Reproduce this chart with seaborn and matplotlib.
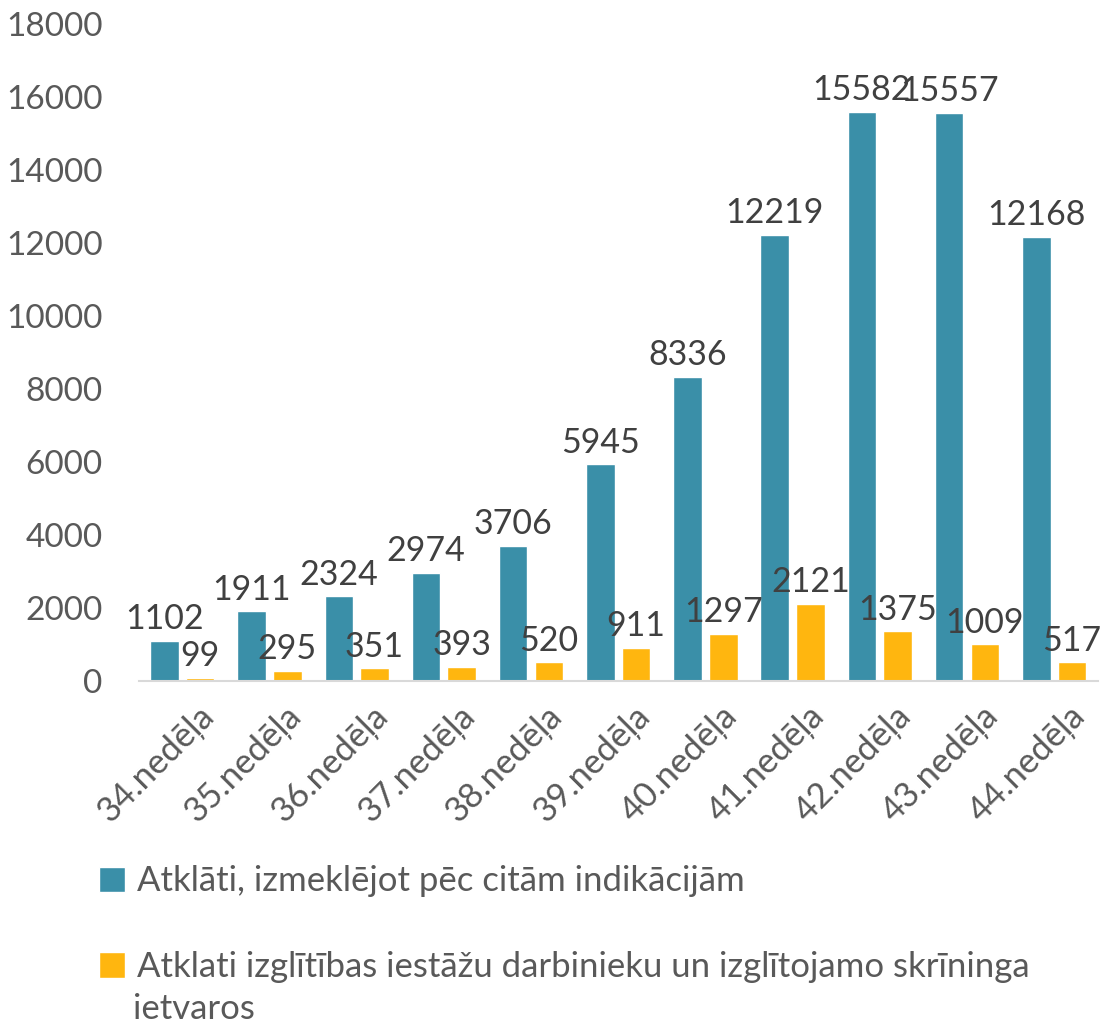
import pandas as pd
import matplotlib
matplotlib.use("Agg")
import matplotlib.pyplot as plt
import matplotlib.transforms as mtransforms
import seaborn as sns

weeks = ["34.nedēļa", "35.nedēļa", "36.nedēļa", "37.nedēļa", "38.nedēļa", "39.nedēļa",
         "40.nedēļa", "41.nedēļa", "42.nedēļa", "43.nedēļa", "44.nedēļa"]
other_ind = [1102, 1911, 2324, 2974, 3706, 5945, 8336, 12219, 15582, 15557, 12168]
screening = [99, 295, 351, 393, 520, 911, 1297, 2121, 1375, 1009, 517]
series_names = ["Atklāti, izmeklējot pēc citām indikācijām",
                "Atklati izglītības iestāžu darbinieku un izglītojamo skrīninga"]
legend_wrap = "ietvaros"
colors = ["#3A8FA8", "#FFB60F"]
y_ticks = [0, 2000, 4000, 6000, 8000, 10000, 12000, 14000, 16000, 18000]

df = pd.DataFrame({
    "week": weeks * 2,
    "value": other_ind + screening,
    "series": [series_names[0]] * len(weeks) + [series_names[1]] * len(weeks),
})

sns.set_style("white")
plt.rcParams["font.family"] = ["Lato", "DejaVu Sans"]

fig = plt.figure(figsize=(11.01, 10.23), dpi=100)
ax = fig.add_axes([0.126, 0.334, 0.871, 0.643])

sns.barplot(data=df, x="week", y="value", hue="series", palette=colors,
            saturation=1, width=0.82, gap=0.2, ax=ax, legend=True)

for cont in ax.containers:
    ax.bar_label(cont, fmt="%d", padding=4, fontsize=24.5, color="#404040")

ax.set_ylim(0, 18000)
ax.set_yticks(y_ticks)
ax.set_xlim(-0.5, len(weeks) - 0.5)
ax.set_xlabel("")
ax.set_ylabel("")
ax.tick_params(axis="y", labelsize=24, labelcolor="#595959", length=0, pad=26)
ax.tick_params(axis="x", labelsize=25, labelcolor="#595959", length=0, pad=13)
# nudge rotated week labels to the right like the original
shift = mtransforms.ScaledTranslation(0.15, 0, fig.dpi_scale_trans)
for lbl in ax.get_xticklabels():
    lbl.set_rotation(45)
    lbl.set_ha("right")
    lbl.set_rotation_mode("anchor")
    lbl.set_transform(lbl.get_transform() + shift)

for s in ["top", "right", "left"]:
    ax.spines[s].set_visible(False)
ax.spines["bottom"].set_color("#D9D9D9")
ax.spines["bottom"].set_linewidth(1.5)

handles, labels = ax.get_legend_handles_labels()
ax.get_legend().remove()
fig.legend(handles, labels, loc="upper left", bbox_to_anchor=(0.09, 0.154),
           frameon=False, fontsize=25, labelcolor="#595959",
           handlelength=0.75, handleheight=0.75, handletextpad=0.35,
           labelspacing=1.55, borderpad=0, borderaxespad=0)
fig.text(133 / 1101, 1 - 1009 / 1023, legend_wrap, fontsize=25, color="#595959",
         ha="left", va="center")

fig.savefig("out.png", dpi=100)
